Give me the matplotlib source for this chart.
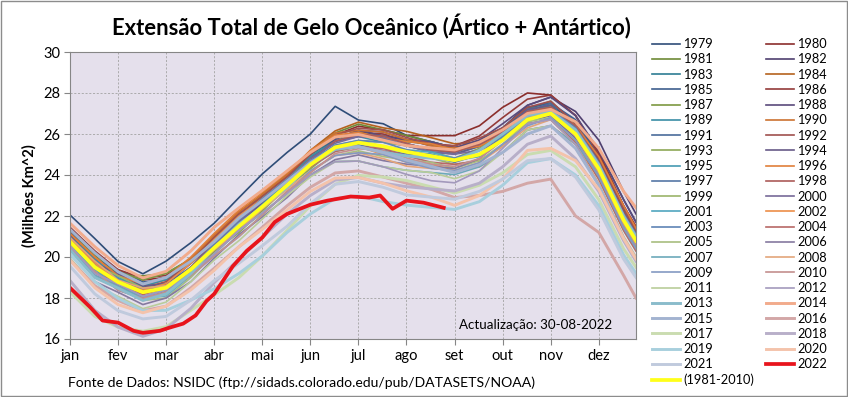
import matplotlib
matplotlib.use('Agg')
import matplotlib.pyplot as plt
from matplotlib.patches import Rectangle

plt.rcParams['font.family'] = ['Lato', 'DejaVu Sans']

# dias do ano (0 = 1 de janeiro) onde os valores foram lidos
dias = [0, 16, 31, 47, 62, 78, 93, 109, 124, 140, 155, 171, 186,
        202, 217, 233, 248, 264, 279, 295, 310, 326, 341, 357, 365]
meses = ['jan', 'fev', 'mar', 'abr', 'mai', 'jun',
         'jul', 'ago', 'set', 'out', 'nov', 'dez']

# media 1981-2010 (milhoes km2)
media_1981_2010 = [20.75, 19.50, 18.78, 18.28, 18.50, 19.40, 20.45, 21.50, 22.45, 23.50, 24.50, 25.35, 25.58,
                   25.40, 25.13, 24.92, 24.72, 25.00, 25.70, 26.70, 27.00, 26.00, 24.30, 21.80, 20.80]

y1979 = [22.05, 20.90, 19.78, 19.18, 19.80, 20.70, 21.65, 22.90, 24.05, 25.10, 26.00, 27.35, 26.68,
         26.50, 25.93, 25.62, 25.32, 25.50, 26.10, 27.00, 27.40, 26.60, 25.20, 22.80, 21.70]
y1980 = [21.35, 20.20, 19.28, 18.88, 19.00, 19.80, 20.95, 21.90, 23.05, 24.00, 25.00, 25.95, 26.38,
         26.20, 25.93, 25.92, 25.92, 26.40, 27.30, 28.00, 27.90, 26.90, 25.10, 22.50, 21.40]
y1981 = [21.25, 20.10, 19.18, 19.08, 19.20, 19.90, 20.85, 22.00, 23.05, 24.20, 25.10, 26.05, 26.48,
         26.20, 25.93, 25.62, 25.32, 25.50, 26.10, 27.20, 27.60, 26.50, 24.60, 22.10, 21.00]
y1982 = [21.05, 19.70, 19.18, 18.58, 18.70, 19.70, 20.85, 22.00, 22.85, 23.80, 25.00, 25.75, 26.18,
         26.10, 25.73, 25.42, 25.32, 25.70, 26.30, 27.40, 27.80, 27.10, 25.70, 23.20, 22.10]
y1983 = [21.15, 20.00, 19.08, 18.68, 19.00, 19.80, 20.95, 21.90, 22.95, 24.10, 25.00, 25.75, 26.18,
         25.90, 25.73, 25.62, 25.32, 25.60, 26.30, 27.30, 27.50, 26.60, 24.80, 22.30, 21.20]
y1984 = [20.95, 19.80, 18.88, 18.58, 18.90, 19.90, 21.05, 22.20, 23.05, 24.00, 25.20, 26.15, 26.58,
         26.30, 26.13, 25.82, 25.52, 25.60, 26.10, 27.10, 27.30, 26.40, 24.70, 22.30, 21.20]
y1985 = [21.25, 19.90, 19.38, 18.78, 18.90, 19.70, 20.75, 21.70, 22.75, 23.90, 24.80, 25.65, 25.98,
         25.90, 25.53, 25.22, 25.12, 25.50, 26.20, 27.30, 27.50, 26.70, 24.90, 22.40, 21.40]
y1986 = [21.45, 20.30, 19.38, 18.98, 19.10, 19.90, 20.95, 22.10, 22.85, 24.00, 25.10, 25.85, 26.08,
         26.00, 25.63, 25.52, 25.42, 25.90, 26.80, 27.70, 27.90, 26.90, 25.00, 22.50, 21.50]
y1987 = [21.35, 20.20, 19.28, 18.88, 19.20, 19.90, 20.85, 21.80, 22.65, 23.80, 24.90, 25.65, 26.08,
         25.80, 25.63, 25.52, 25.22, 25.40, 26.00, 27.00, 27.40, 26.30, 24.50, 22.00, 20.90]
y1988 = [20.75, 19.60, 18.68, 18.38, 18.50, 19.50, 20.65, 21.60, 22.75, 23.70, 24.80, 25.75, 26.18,
         25.90, 25.73, 25.62, 25.32, 25.70, 26.50, 27.40, 27.80, 26.90, 25.20, 22.80, 21.70]
y1989 = [21.05, 19.90, 18.98, 18.58, 18.90, 19.70, 20.85, 22.00, 22.85, 23.80, 24.90, 25.65, 25.88,
         25.60, 25.43, 25.32, 25.02, 25.40, 26.10, 27.20, 27.40, 26.30, 24.60, 22.10, 21.00]
y1990 = [21.15, 20.00, 19.08, 18.68, 19.00, 19.90, 21.05, 22.20, 23.05, 24.00, 25.10, 26.05, 26.18,
         26.10, 25.73, 25.42, 25.32, 25.40, 25.90, 26.90, 27.10, 26.20, 24.40, 21.90, 20.80]
y1991 = [20.85, 19.70, 18.78, 18.38, 18.70, 19.50, 20.65, 21.80, 22.65, 23.60, 24.70, 25.65, 25.98,
         25.90, 25.53, 25.22, 25.12, 25.50, 26.20, 27.10, 27.50, 26.60, 24.70, 22.20, 21.20]
y1992 = [20.95, 19.80, 18.88, 18.48, 18.80, 19.80, 20.95, 22.10, 22.95, 23.90, 25.00, 25.95, 26.28,
         26.20, 25.83, 25.52, 25.42, 25.80, 26.30, 27.30, 27.60, 26.50, 24.80, 22.30, 21.30]
y1993 = [20.75, 19.60, 18.68, 18.28, 18.40, 19.20, 20.25, 21.20, 22.25, 23.40, 24.30, 25.25, 25.68,
         25.60, 25.43, 25.12, 24.82, 25.30, 26.00, 26.90, 27.30, 26.40, 24.50, 22.00, 21.00]
y1994 = [21.05, 19.70, 19.18, 18.58, 18.70, 19.70, 20.65, 21.60, 22.65, 23.80, 24.70, 25.65, 25.88,
         25.80, 25.43, 25.12, 25.02, 25.40, 26.10, 27.20, 27.40, 26.30, 24.60, 22.10, 21.10]
y1995 = [20.85, 19.50, 18.98, 18.38, 18.50, 19.50, 20.55, 21.50, 22.55, 23.70, 24.60, 25.35, 25.58,
         25.30, 25.13, 25.02, 24.72, 24.90, 25.80, 26.70, 27.10, 26.00, 24.10, 21.60, 20.60]
y1996 = [21.15, 20.00, 19.08, 18.68, 19.00, 20.00, 21.15, 22.30, 23.15, 24.10, 25.20, 25.95, 26.08,
         25.80, 25.63, 25.52, 25.22, 25.40, 26.00, 26.90, 27.30, 26.40, 24.90, 22.50, 21.40]
y1997 = [20.95, 19.80, 18.88, 18.48, 18.60, 19.40, 20.45, 21.40, 22.45, 23.60, 24.50, 25.25, 25.48,
         25.20, 25.03, 24.92, 24.62, 25.00, 25.90, 26.80, 27.20, 26.10, 24.30, 21.80, 20.80]
y1998 = [20.65, 19.50, 18.58, 18.18, 18.50, 19.50, 20.65, 21.80, 22.85, 23.80, 24.70, 25.65, 25.98,
         25.90, 25.53, 25.22, 25.12, 25.50, 26.10, 27.10, 27.30, 26.40, 24.60, 22.10, 21.10]
y1999 = [20.95, 19.60, 19.08, 18.48, 18.60, 19.40, 20.35, 21.30, 22.35, 23.50, 24.40, 25.15, 25.38,
         25.10, 24.93, 24.82, 24.52, 24.70, 25.40, 26.50, 26.70, 25.60, 23.80, 21.30, 20.30]
y2000 = [20.45, 19.10, 18.58, 17.98, 18.30, 19.40, 20.55, 21.70, 22.75, 23.70, 24.80, 25.55, 25.88,
         25.80, 25.43, 25.12, 25.02, 25.20, 25.70, 26.60, 26.90, 25.80, 24.00, 21.50, 20.50]
y2001 = [20.55, 19.40, 18.48, 18.08, 18.40, 19.40, 20.45, 21.60, 22.45, 23.40, 24.50, 25.45, 25.68,
         25.40, 25.23, 25.12, 24.82, 25.00, 25.70, 26.60, 27.00, 26.10, 24.10, 21.60, 20.60]
y2002 = [20.85, 19.70, 18.78, 18.38, 18.70, 19.70, 20.85, 22.00, 22.85, 23.80, 24.70, 25.35, 25.38,
         25.00, 24.63, 24.52, 24.22, 24.40, 25.10, 26.20, 26.40, 25.50, 23.90, 21.40, 20.40]
y2003 = [20.45, 19.30, 18.38, 17.98, 18.30, 19.40, 20.65, 21.80, 22.85, 23.80, 24.70, 25.45, 25.68,
         25.60, 25.23, 24.92, 24.82, 25.20, 25.90, 26.80, 27.20, 26.30, 24.60, 22.10, 21.10]
y2004 = [20.65, 19.50, 18.58, 18.18, 18.50, 19.30, 20.35, 21.30, 22.35, 23.50, 24.40, 25.15, 25.38,
         25.30, 24.93, 24.62, 24.52, 24.70, 25.40, 26.50, 26.70, 25.60, 23.80, 21.30, 20.30]
y2005 = [20.35, 19.00, 18.48, 17.88, 18.00, 19.00, 20.15, 21.30, 22.15, 23.10, 24.20, 24.95, 25.18,
         24.90, 24.73, 24.62, 24.32, 24.70, 25.50, 26.60, 26.80, 25.70, 24.00, 21.50, 20.50]
y2006 = [20.15, 18.80, 18.28, 17.68, 18.00, 18.80, 19.95, 21.10, 21.95, 22.90, 24.00, 24.75, 24.98,
         24.70, 24.53, 24.42, 24.32, 24.80, 25.70, 26.80, 27.10, 26.00, 24.30, 21.80, 20.80]
y2007 = [20.45, 19.10, 18.58, 17.98, 18.10, 19.10, 20.05, 21.00, 22.05, 23.20, 24.00, 24.65, 24.68,
         24.40, 24.23, 24.12, 24.02, 24.40, 25.10, 26.20, 26.40, 25.50, 24.00, 21.50, 20.50]
y2008 = [20.95, 19.80, 18.88, 18.48, 18.60, 19.40, 20.35, 21.30, 22.35, 23.30, 24.20, 24.95, 25.08,
         24.80, 24.43, 24.32, 24.22, 24.60, 25.40, 26.30, 26.70, 25.50, 23.60, 21.00, 20.00]
y2009 = [20.55, 19.20, 18.68, 18.08, 18.20, 19.20, 20.15, 21.30, 22.15, 23.10, 24.20, 24.95, 25.08,
         25.00, 24.63, 24.32, 24.22, 24.60, 25.50, 26.40, 26.80, 25.70, 23.90, 21.40, 20.40]
y2010 = [20.45, 19.30, 18.38, 17.98, 18.30, 19.10, 20.05, 21.00, 22.05, 23.20, 24.10, 25.05, 25.28,
         25.20, 24.83, 24.52, 24.42, 24.80, 25.70, 26.80, 27.00, 25.90, 24.10, 21.60, 20.60]
y2011 = [19.95, 18.60, 18.08, 17.48, 17.80, 18.80, 19.85, 20.80, 21.85, 23.00, 23.90, 24.65, 24.68,
         24.40, 24.23, 24.12, 23.82, 24.20, 25.10, 26.20, 26.40, 25.30, 23.50, 21.00, 20.00]
y2012 = [20.55, 19.20, 18.68, 18.08, 18.40, 19.20, 20.15, 21.30, 22.15, 23.10, 24.00, 24.65, 24.68,
         24.40, 24.03, 23.72, 23.62, 24.20, 25.30, 26.50, 26.70, 25.50, 23.50, 20.90, 19.90]
y2013 = [20.35, 19.00, 18.48, 17.88, 18.20, 19.20, 20.45, 21.60, 22.45, 23.40, 24.50, 25.25, 25.38,
         25.10, 24.93, 24.82, 24.72, 25.20, 26.00, 26.90, 27.10, 26.20, 24.50, 22.00, 21.00]
y2014 = [21.65, 20.50, 19.58, 18.98, 19.30, 20.30, 21.45, 22.40, 23.25, 24.20, 25.10, 25.85, 25.98,
         25.70, 25.43, 25.32, 25.22, 25.60, 26.20, 27.00, 27.20, 26.60, 25.30, 23.20, 22.40]
y2015 = [21.35, 20.20, 19.28, 18.68, 19.00, 19.80, 20.75, 21.90, 22.75, 23.70, 24.60, 25.35, 25.38,
         25.10, 24.73, 24.42, 24.12, 24.50, 25.10, 26.00, 26.40, 25.30, 23.50, 20.90, 19.90]
y2016 = [19.85, 18.60, 17.88, 17.38, 17.60, 18.50, 19.45, 20.50, 21.45, 22.50, 23.40, 24.10, 24.20,
         23.90, 23.60, 23.30, 22.90, 23.00, 23.20, 23.60, 23.80, 22.00, 21.20, 19.10, 18.00]
y2017 = [18.30, 17.10, 16.58, 16.38, 16.60, 17.40, 18.15, 19.00, 20.05, 21.30, 22.50, 23.55, 23.98,
         23.90, 23.73, 23.42, 23.12, 23.50, 24.10, 25.00, 25.20, 24.40, 22.80, 20.40, 19.50]
y2018 = [18.85, 17.40, 16.58, 16.13, 16.50, 17.50, 18.75, 19.90, 20.95, 22.10, 23.00, 23.75, 23.88,
         23.60, 23.43, 23.32, 23.22, 23.60, 24.40, 25.50, 25.90, 24.80, 23.20, 20.80, 19.80]
y2019 = [20.15, 18.80, 17.98, 17.38, 17.40, 17.90, 18.45, 19.20, 20.05, 21.20, 22.10, 22.85, 22.98,
         22.70, 22.53, 22.42, 22.32, 22.70, 23.50, 24.60, 24.80, 24.00, 22.50, 20.10, 19.20]
y2020 = [19.85, 18.50, 17.68, 17.28, 17.60, 18.40, 19.35, 20.50, 21.35, 22.30, 23.20, 23.85, 23.88,
         23.60, 23.23, 22.92, 22.52, 23.00, 23.80, 25.20, 25.30, 24.70, 23.30, 20.90, 19.90]
y2021 = [19.55, 18.20, 17.38, 16.98, 17.10, 17.90, 18.85, 19.70, 20.55, 21.50, 22.60, 23.55, 23.68,
         23.40, 23.03, 22.92, 22.82, 23.20, 23.80, 24.70, 24.80, 23.90, 22.30, 19.90, 19.00]

# 2022 (ate 30-08-2022)
dias_2022 = [0, 13, 21, 31, 41, 47, 58, 64, 73, 81, 88, 93, 105, 114, 124,
             132, 140, 155, 166, 181, 193, 200, 208, 217, 228, 241]
y2022 = [18.50, 17.55, 16.90, 16.80, 16.40, 16.30, 16.40, 16.55, 16.75, 17.15, 17.85, 18.20, 19.55, 20.30, 20.95,
         21.70, 22.10, 22.55, 22.75, 22.95, 22.90, 23.00, 22.35, 22.75, 22.65, 22.40]

anos = list(range(1979, 2022))
series = [y1979, y1980, y1981, y1982, y1983, y1984, y1985, y1986, y1987, y1988,
          y1989, y1990, y1991, y1992, y1993, y1994, y1995, y1996, y1997, y1998,
          y1999, y2000, y2001, y2002, y2003, y2004, y2005, y2006, y2007, y2008,
          y2009, y2010, y2011, y2012, y2013, y2014, y2015, y2016, y2017, y2018,
          y2019, y2020, y2021]

# paletas (tipo Excel): azul, vermelho, verde, roxo, turquesa, laranja
familias = [
    ['#2F4D78', '#3E5F8E', '#4A6C9B', '#5577A5', '#5F84B5', '#8499C2', '#A3B3D0', '#C0CADD'],
    ['#8B2E2C', '#943B39', '#A0504E', '#AC5B59', '#B86866', '#C48F8E', '#D3A7A7'],
    ['#6E8A36', '#7D9841', '#8EA856', '#9BB46A', '#A8BE7F', '#B9CD9A', '#CADCB0'],
    ['#4F3F6F', '#5A4A7B', '#675A88', '#776A98', '#85799F', '#A399BC', '#B8AFC9'],
    ['#2E7D93', '#3A8EA6', '#4599B2', '#50A6BF', '#6CA9BA', '#8ABCCB', '#A8CFDD'],
    ['#B5621E', '#CC7230', '#E07F3A', '#EC8D48', '#E3A57A', '#F2AB8C', '#F4C3AB'],
]

fig = plt.figure(figsize=(8.48, 3.97), dpi=100)
ax = fig.add_axes([70 / 848, 58 / 397, 566 / 848, 287 / 397])
ax.set_facecolor('#E5E0EC')

linhas = {}
for i, (ano, vals) in enumerate(zip(anos, series)):
    cor = familias[i % 6][i // 6]
    lw = 1.2 if ano < 2013 else 2.1
    ln, = ax.plot(dias, vals, color=cor, lw=lw, label=str(ano))
    linhas[ano] = ln

ln, = ax.plot(dias_2022, y2022, color='#E8141C', lw=2.7, label='2022')
linhas[2022] = ln
ln_media, = ax.plot(dias, media_1981_2010, color='#FFFF1A', lw=2.7, label='(1981-2010)')

ax.set_xlim(0, 365)
ax.set_ylim(16, 30)
ax.set_xticks([31 * i for i in range(12)])
ax.set_xticklabels(meses)
ax.set_yticks(range(16, 31, 2))
ax.grid(True, color='#A3A3A3', linestyle=(0, (2.5, 2)), linewidth=0.6)
ax.set_axisbelow(True)
for s in ax.spines.values():
    s.set_color('#868686')
    s.set_linewidth(0.8)
ax.tick_params(direction='out', length=4, color='#868686', labelsize=10.5, pad=3)

ax.set_ylabel('(Milhões Km^2)', fontsize=10.5, fontweight='bold', labelpad=5)

fig.text(371 / 848, 1 - 27 / 397, 'Extensão Total de Gelo Oceânico (Ártico + Antártico)',
         ha='center', va='center', fontsize=15.8, fontweight='bold')
fig.text(68 / 848, 1 - 383 / 397, 'Fonte de Dados: NSIDC (ftp://sidads.colorado.edu/pub/DATASETS/NOAA)',
         ha='left', va='center', fontsize=10.1)
fig.text(612 / 848, 1 - 325 / 397, 'Actualização: 30-08-2022',
         ha='right', va='center', fontsize=9.6)

# legenda em duas colunas (anos impares / pares)
col1 = [linhas[a] for a in range(1979, 2022, 2)] + [ln_media]
col2 = [linhas[a] for a in range(1980, 2023, 2)]
handles = col1 + col2
fig.legend(handles=handles, labels=[h.get_label() for h in handles], ncol=2,
           loc='upper left', bbox_to_anchor=(652 / 848, 1 - 38 / 397),
           frameon=False, fontsize=9.2, handlelength=2.2, handletextpad=0.25,
           columnspacing=0.9, labelspacing=0.255, borderpad=0, borderaxespad=0)

fig.add_artist(Rectangle((0.0006, 0.0013), 0.9988, 0.9974, transform=fig.transFigure,
                         fill=False, edgecolor='#8C8C8C', lw=1))

fig.savefig('out.png', dpi=100)
